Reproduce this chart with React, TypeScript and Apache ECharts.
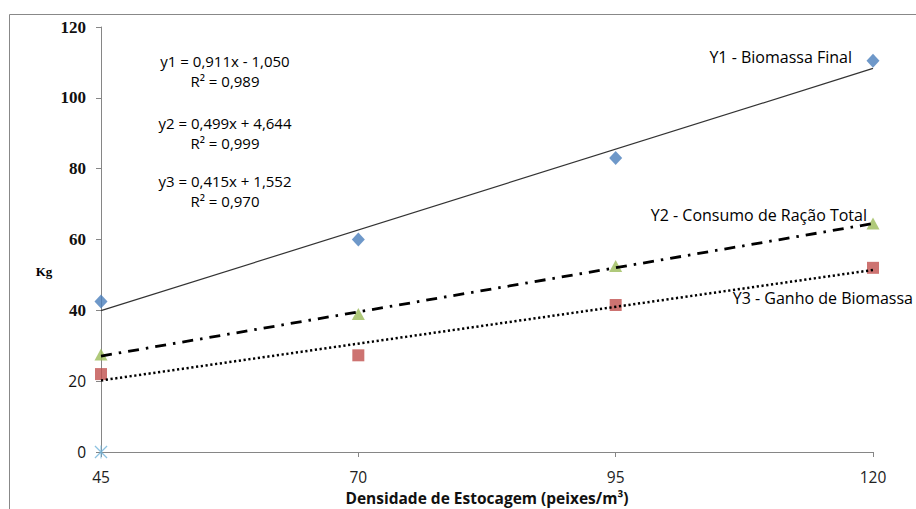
import React, { useEffect, useRef } from "react";
import * as echarts from "echarts";

const xValues = [45, 70, 95, 120];
const biomassaFinal = [42.5, 60, 83, 110.5];
const consumoRacao = [27.5, 39, 52.5, 64.5];
const ganhoBiomassa = [22, 27.3, 41.5, 52];
const zeroMarker = [[45, 0]];
const trendX = [45, 120];
const trend1 = [39.9, 108.3];
const trend2 = [27.1, 64.5];
const trend3 = [20.2, 51.4];
const equations = [
  ["y1 = 0,911x - 1,050", "R² = 0,989"],
  ["y2 = 0,499x + 4,644", "R² = 0,999"],
  ["y3 = 0,415x + 1,552", "R² = 0,970"],
];
const seriesLabels = ["Y1 - Biomassa Final", "Y2 - Consumo de Ração Total", "Y3 - Ganho de Biomassa"];

const pair = (xs: number[], ys: number[]) => xs.map((x, i) => [x, ys[i]]);

const starPath =
  "path://M46,0 L54,0 L54,100 L46,100 Z M0,7 L7,0 L100,93 L93,100 Z M93,0 L100,7 L7,100 L0,93 Z";

export default function App() {
  const ref = useRef<HTMLDivElement>(null);
  useEffect(() => {
    if (!ref.current) return;
    const chart = echarts.init(ref.current, null, { renderer: "svg" });
    const sans = "'Open Sans', sans-serif";
    const eqPos = [
      [61, 81],
      [123, 143],
      [181, 201],
    ];
    const graphics: any[] = [
      {
        type: "rect",
        shape: { x: 9.5, y: 14.5, width: 1000, height: 600 },
        style: { fill: "none", stroke: "#888", lineWidth: 1 },
        silent: true,
      },
      {
        type: "text",
        x: 44,
        y: 271,
        style: {
          text: "Kg",
          font: "bold 13px 'Liberation Serif', serif",
          fill: "#000",
          textAlign: "center",
          textVerticalAlign: "middle",
        },
      },
    ];
    equations.forEach((eq, i) => {
      eq.forEach((t, j) => {
        graphics.push({
          type: "text",
          x: 225,
          y: eqPos[i][j],
          style: {
            text: t,
            font: `15px ${sans}`,
            fill: "#000",
            textAlign: "center",
            textVerticalAlign: "middle",
          },
        });
      });
    });
    const labelPos = [
      [852, 57],
      [867, 215],
      [913, 298],
    ];
    seriesLabels.forEach((t, i) => {
      graphics.push({
        type: "text",
        x: labelPos[i][0],
        y: labelPos[i][1],
        style: {
          text: t,
          font: `16px ${sans}`,
          fill: "#000",
          textAlign: "right",
          textVerticalAlign: "middle",
        },
      });
    });

    chart.setOption({
      animation: false,
      backgroundColor: "#fff",
      grid: { left: 101, right: 43, top: 27, bottom: 57, outerBoundsMode: "none" },
      xAxis: {
        type: "value",
        min: 45,
        max: 120,
        name: "Densidade de Estocagem (peixes/m³)",
        nameLocation: "middle",
        nameGap: 33,
        nameTextStyle: { fontFamily: sans, fontWeight: "bold", fontSize: 15.5, color: "#111" },
        axisLine: { lineStyle: { color: "#868686" } },
        axisTick: { show: true, length: 5, customValues: xValues, lineStyle: { color: "#868686" } },
        axisLabel: {
          customValues: xValues,
          margin: 17,
          fontFamily: sans,
          fontSize: 15.5,
          color: "#222",
        },
        splitLine: { show: false },
      },
      yAxis: {
        type: "value",
        min: 0,
        max: 120,
        interval: 20,
        axisLine: { show: true, lineStyle: { color: "#868686" } },
        axisTick: { show: true, length: 5, lineStyle: { color: "#868686" } },
        splitLine: { show: false },
        axisLabel: {
          margin: 15,
          formatter: (v: number) => (v >= 40 ? `{b|${v}}` : `{s|${v}}`),
          rich: {
            b: { fontFamily: "'Liberation Serif', serif", fontWeight: "bold", fontSize: 17, color: "#111" },
            s: { fontFamily: sans, fontSize: 15.5, color: "#111" },
          },
        },
      },
      series: [
        {
          type: "scatter",
          data: pair(xValues, biomassaFinal),
          symbol: "diamond",
          symbolSize: [13, 14],
          itemStyle: { color: "#4a7ebb" },
        },
        {
          type: "scatter",
          data: pair(xValues, consumoRacao),
          symbol: "triangle",
          symbolSize: [13, 12],
          itemStyle: { color: "#9bbb59" },
        },
        {
          type: "scatter",
          data: pair(xValues, ganhoBiomassa),
          symbol: "rect",
          symbolSize: 12,
          itemStyle: { color: "#c0504d" },
        },
        {
          type: "scatter",
          data: zeroMarker,
          symbol: starPath,
          symbolSize: 13,
          itemStyle: { color: "#6fb3d9" },
        },
        {
          type: "line",
          data: pair(trendX, trend1),
          symbol: "none",
          lineStyle: { color: "#333", width: 1.2 },
        },
        {
          type: "line",
          data: pair(trendX, trend2),
          symbol: "none",
          lineStyle: { color: "#000", width: 2.8, type: [11, 7, 2.5, 7] },
        },
        {
          type: "line",
          data: pair(trendX, trend3),
          symbol: "none",
          lineStyle: { color: "#000", width: 2.5, type: [2.2, 2.6] },
        },
      ],
      graphic: graphics,
    });
    return () => chart.dispose();
  }, []);
  return (
    <div
      ref={ref}
      style={{ position: "fixed", left: 0, top: 0, width: 916, height: 509, background: "#fff" }}
    />
  );
}
